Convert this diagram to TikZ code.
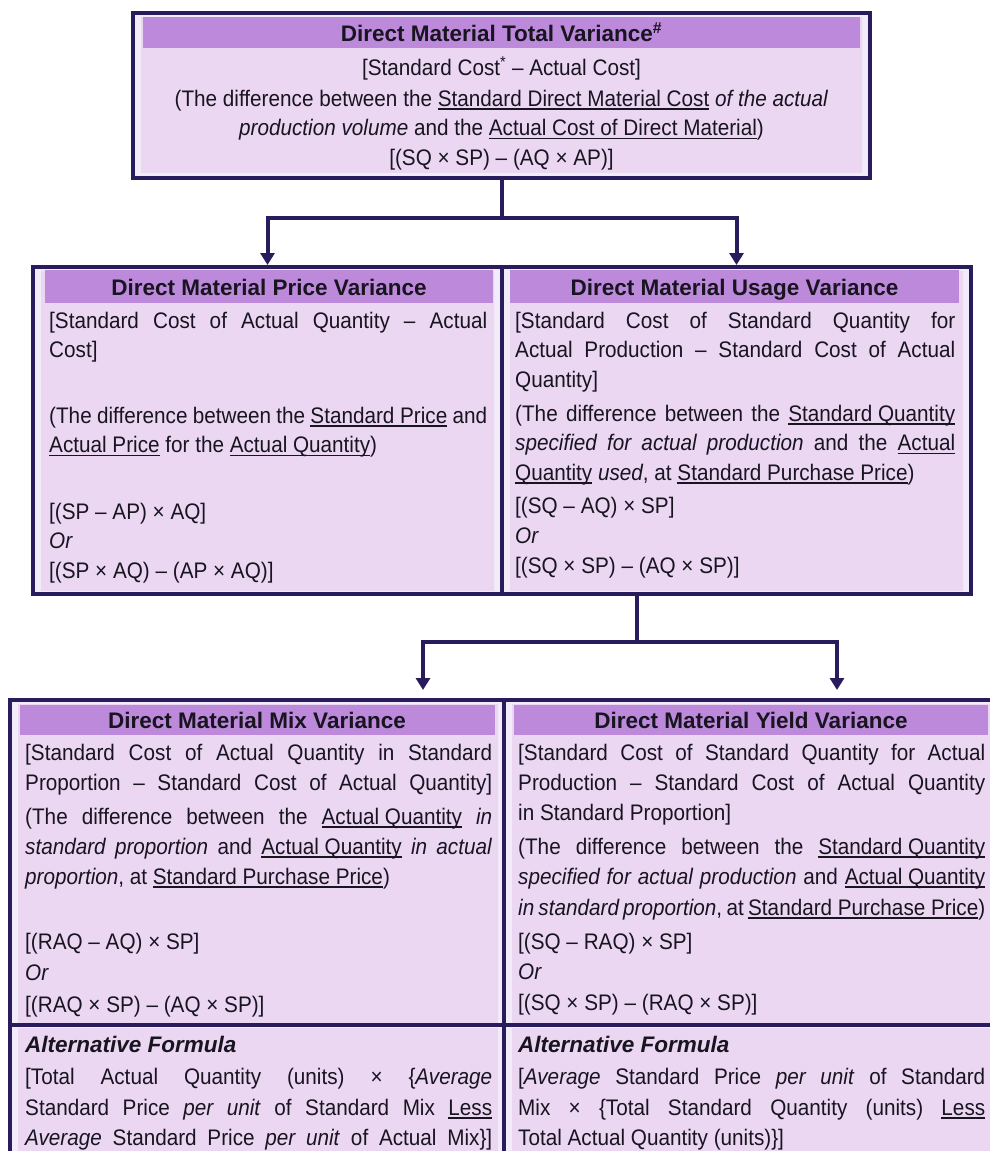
\documentclass[tikz,border=0pt]{standalone}
\usepackage{fontspec}
\setmainfont{Liberation Sans}
\newfontfamily\bodyfam{Liberation Sans}[FakeStretch=0.92]
\usetikzlibrary{arrows.meta,calc}

\definecolor{framecol}{RGB}{40,28,92}
\definecolor{bandcol}{RGB}{188,137,219}
\definecolor{pinkbody}{RGB}{235,215,242}
\definecolor{bluebody}{RGB}{220,224,245}
\definecolor{rimcol}{RGB}{242,235,248}
\definecolor{ink}{RGB}{24,20,32}

% underline at a fixed depth below the baseline
\newcommand{\undl}[1]{\begingroup\setbox0\hbox{#1}\rlap{\rule[-3.6pt]{\wd0}{1.6pt}}\box0\endgroup}
% a line of text stretched to the given width (in pt)
\newcommand{\jst}[2]{\makebox[#1pt][s]{#2}}

\begin{document}
\begin{tikzpicture}[x=1pt,y=-1pt,
  boxframe/.style={draw=framecol, line width=4pt, fill=rimcol, inner sep=0pt},
  conn/.style={draw=framecol, line width=4pt},
  tip/.style={-{Triangle[length=12pt,width=14pt]}},
  txt/.style={inner sep=0pt, anchor=base west, text=ink, font=\bodyfam\fontsize{22.5}{27}\selectfont},
  ctxt/.style={txt, anchor=base},
  head/.style={inner sep=0pt, anchor=base, text=ink, font=\fontsize{22.5}{27}\selectfont\bfseries},
  altf/.style={txt, font=\fontsize{22.5}{27}\selectfont\bfseries\itshape},
]
\useasboundingbox[fill=white] (0,0) rectangle (989,1151);

% ---------- total variance ----------
\node[boxframe, minimum width=737pt, minimum height=165pt] (total) at (501.5,95.5) {};
\fill[top color=pinkbody, middle color=bluebody, bottom color=pinkbody] (141,17) rectangle (862,172);
\fill[bandcol] (143,17) rectangle (860,48);
\node[head] (totalhd) at (501.5,41) {Direct Material Total Variance\textsuperscript{\#}};
\node[ctxt] (t1) at (501.5,75) {[Standard Cost\textsuperscript{*} – Actual Cost]};
\node[ctxt] (t2) at (501.5,106) {(The difference between the \undl{Standard Direct Material Cost} \textit{of the actual}};
\node[ctxt] (t3) at (501.5,135.5) {\textit{production volume} and the \undl{Actual Cost of Direct Material})};
\node[ctxt] (t4) at (501.5,165) {[(SQ × SP) – (AQ × AP)]};

% ---------- price and usage variances ----------
\node[boxframe, minimum width=469pt, minimum height=327pt] (price) at (267.5,430.5) {};
\node[boxframe, minimum width=469pt, minimum height=327pt] (usage) at (736.5,430.5) {};
\fill[top color=pinkbody, middle color=bluebody, bottom color=pinkbody] (41,271) rectangle (494,590);
\fill[top color=pinkbody, middle color=bluebody, bottom color=pinkbody] (510,271) rectangle (963,590);
\fill[bandcol] (45,270) rectangle (493,303);
\fill[bandcol] (510,270) rectangle (959,303);
\node[head] (pricehd) at (269,295) {Direct Material Price Variance};
\node[head] (usagehd) at (734.5,295) {Direct Material Usage Variance};

\node[txt] (p1) at (49,328) {\jst{438}{[Standard Cost of Actual Quantity – Actual}};
\node[txt] (p2) at (49,357.5) {Cost]};
\node[txt] (p3) at (49,423) {\jst{438}{(The difference between the \undl{Standard Price} and}};
\node[txt] (p4) at (49,452.5) {\undl{Actual Price} for the \undl{Actual Quantity})};
\node[txt] (p5) at (49,519) {[(SP – AP) × AQ]};
\node[txt] (p6) at (49,548.5) {\textit{Or}};
\node[txt] (p7) at (49,578) {[(SP × AQ) – (AP × AQ)]};

\node[txt] (u1) at (515,328) {\jst{440}{[Standard Cost of Standard Quantity for}};
\node[txt] (u2) at (515,357.5) {\jst{440}{Actual Production – Standard Cost of Actual}};
\node[txt] (u3) at (515,387) {Quantity]};
\node[txt] (u4) at (515,421) {\jst{440}{(The difference between the \undl{Standard Quantity}}};
\node[txt] (u5) at (515,450.5) {\jst{440}{\textit{specified for actual production} and the \undl{Actual}}};
\node[txt] (u6) at (515,480) {\undl{Quantity} \textit{used}, at \undl{Standard Purchase Price})};
\node[txt] (u7) at (515,513) {[(SQ – AQ) × SP]};
\node[txt] (u8) at (515,543) {\textit{Or}};
\node[txt] (u9) at (515,573) {[(SQ × SP) – (AQ × SP)]};

% ---------- mix and yield variances ----------
\node[boxframe, minimum width=494pt, minimum height=460pt] (mix) at (257,930) {};
\node[boxframe, minimum width=494pt, minimum height=460pt] (yield) at (751,930) {};
\fill[top color=pinkbody, middle color=bluebody, bottom color=pinkbody] (18,704) rectangle (498,1022);
\fill[top color=pinkbody, middle color=bluebody, bottom color=pinkbody] (512,704) rectangle (990,1022);
\fill[pinkbody] (18,1028) rectangle (498,1160);
\fill[pinkbody] (512,1028) rectangle (990,1160);
\fill[bandcol] (20,705) rectangle (495,735);
\fill[bandcol] (514,705) rectangle (988,735);
\coordinate (altline) at (0,1025);
\draw[conn] (mix.west |- altline) -- (yield.east |- altline);
\node[head] (mixhd) at (257,728) {Direct Material Mix Variance};
\node[head] (yieldhd) at (751,728) {Direct Material Yield Variance};

\node[txt] (m1) at (25,760) {\jst{467}{[Standard Cost of Actual Quantity in Standard}};
\node[txt] (m2) at (25,790) {\jst{467}{Proportion – Standard Cost of Actual Quantity]}};
\node[txt] (m3) at (25,824) {\jst{467}{(The difference between the \undl{Actual Quantity} \textit{in}}};
\node[txt] (m4) at (25,854) {\jst{467}{\textit{standard proportion} and \undl{Actual Quantity} \textit{in actual}}};
\node[txt] (m5) at (25,884) {\textit{proportion}, at \undl{Standard Purchase Price})};
\node[txt] (m6) at (25,949) {[(RAQ – AQ) × SP]};
\node[txt] (m7) at (25,980) {\textit{Or}};
\node[txt] (m8) at (25,1012) {[(RAQ × SP) – (AQ × SP)]};
\node[altf] (m9) at (25,1052) {Alternative Formula};
\node[txt] (m10) at (25,1084) {\jst{467}{[Total Actual Quantity (units) × \{\textit{Average}}};
\node[txt] (m11) at (25,1115) {\jst{467}{Standard Price \textit{per unit} of Standard Mix \undl{Less}}};
\node[txt] (m12) at (25,1145) {\jst{467}{\textit{Average} Standard Price \textit{per unit} of Actual Mix\}]}};

\node[txt] (y1) at (518,760) {\jst{467}{[Standard Cost of Standard Quantity for Actual}};
\node[txt] (y2) at (518,790) {\jst{467}{Production – Standard Cost of Actual Quantity}};
\node[txt] (y3) at (518,820) {in Standard Proportion]};
\node[txt] (y4) at (518,854) {\jst{467}{(The difference between the \undl{Standard Quantity}}};
\node[txt] (y5) at (518,884) {\jst{467}{\textit{specified for actual production} and \undl{Actual Quantity}}};
\node[txt] (y6) at (518,915) {\jst{467}{\textit{in standard proportion}, at \undl{Standard Purchase Price})}};
\node[txt] (y7) at (518,949) {[(SQ – RAQ) × SP]};
\node[txt] (y8) at (518,979) {\textit{Or}};
\node[txt] (y9) at (518,1010) {[(SQ × SP) – (RAQ × SP)]};
\node[altf] (y10) at (518,1052) {Alternative Formula};
\node[txt] (y11) at (518,1084) {\jst{467}{[\textit{Average} Standard Price \textit{per unit} of Standard}};
\node[txt] (y12) at (518,1115) {\jst{467}{Mix × \{Total Standard Quantity (units) \undl{Less}}};
\node[txt] (y13) at (518,1145) {Total Actual Quantity (units)\}]};

% ---------- connectors ----------
\coordinate (split1) at (501.5,218);
\draw[conn] (total.south) -- (split1);
\draw[conn,tip] (split1) -| (price.north);
\draw[conn,tip] (split1) -| (usage.north);

\coordinate (split2) at (637,642);
\coordinate (mixin) at (423,690);
\coordinate (yieldin) at (837,690);
\draw[conn] (usage.south -| split2) -- (split2);
\draw[conn,tip] (split2) -| (mixin);
\draw[conn,tip] (split2) -| (yieldin);
\end{tikzpicture}
\end{document}
